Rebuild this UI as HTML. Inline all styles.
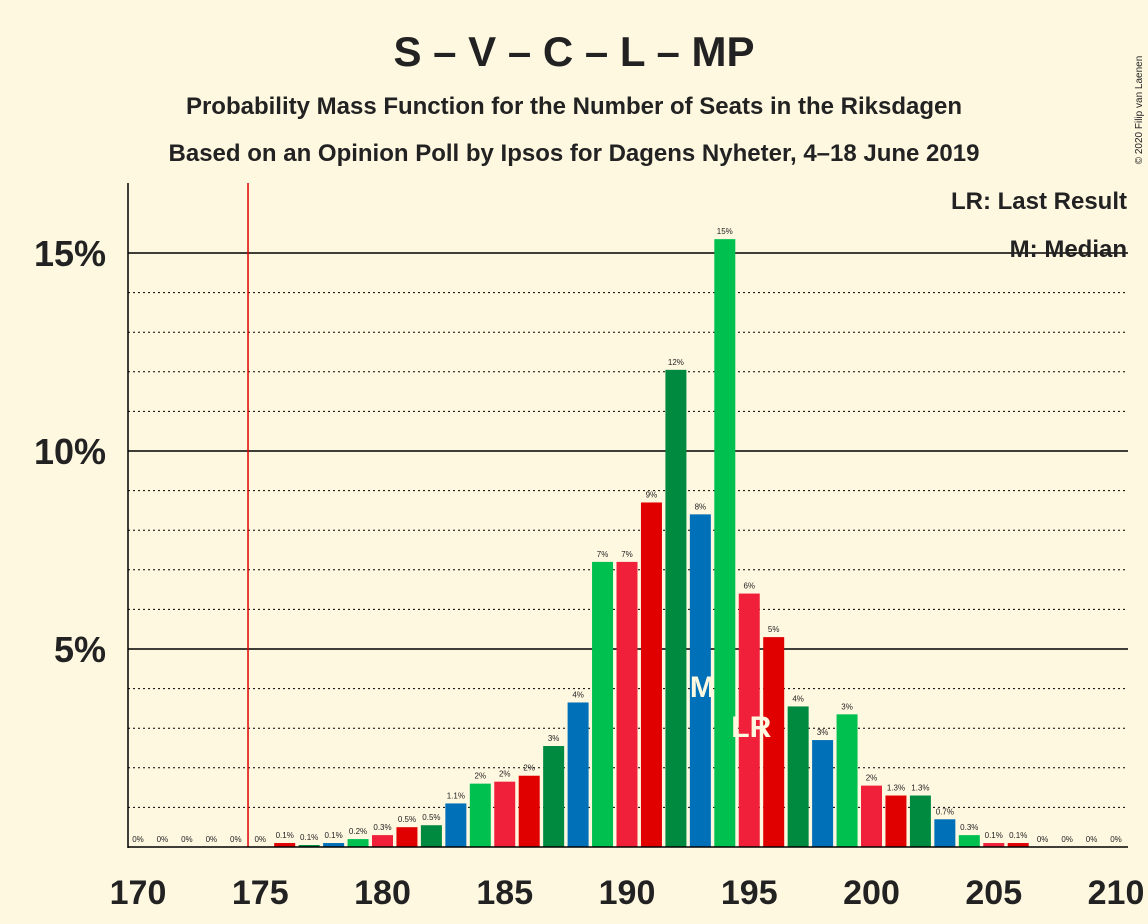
<!DOCTYPE html>
<html><head><meta charset="utf-8"><style>
body{margin:0;background:#fff8e1;font-family:"Liberation Sans",sans-serif}
svg{display:block}
</style></head><body>
<svg width="1148" height="924" viewBox="0 0 1148 924">
<rect width="1148" height="924" fill="#fff8e1"/>
<text x="574" y="66" text-anchor="middle" font-size="42" font-weight="bold" fill="#222">S – V – C – L – MP</text>
<text x="574" y="114" text-anchor="middle" font-size="24" font-weight="bold" fill="#222">Probability Mass Function for the Number of Seats in the Riksdagen</text>
<text x="574" y="161" text-anchor="middle" font-size="24" font-weight="bold" fill="#222">Based on an Opinion Poll by Ipsos for Dagens Nyheter, 4–18 June 2019</text>
<text x="1142" y="110" transform="rotate(-90 1142 110)" text-anchor="middle" font-size="10" fill="#222">© 2020 Filip van Laenen</text>
<g id="grid"></g>
<g id="bars"></g>
<g id="marks"></g>
<g id="axes"></g>
<text x="1127" y="209" text-anchor="end" font-size="24" font-weight="bold" fill="#222">LR: Last Result</text>
<text x="1127" y="257" text-anchor="end" font-size="24" font-weight="bold" fill="#222">M: Median</text>
</svg>
<script>
const seats=[170,171,172,173,174,175,176,177,178,179,180,181,182,183,184,185,186,187,188,189,190,191,192,193,194,195,196,197,198,199,200,201,202,203,204,205,206,207,208,209,210];
const probs=[0,0,0,0,0,0,0.1,0.05,0.1,0.2,0.3,0.5,0.55,1.1,1.6,1.65,1.8,2.55,3.65,7.2,7.2,8.7,12.05,8.4,15.35,6.4,5.3,3.55,2.7,3.35,1.55,1.3,1.3,0.7,0.3,0.1,0.1,0,0,0,0];
const labels=["0%","0%","0%","0%","0%","0%","0.1%","0.1%","0.1%","0.2%","0.3%","0.5%","0.5%","1.1%","2%","2%","2%","3%","4%","7%","7%","9%","12%","8%","15%","6%","5%","4%","3%","3%","2%","1.3%","1.3%","0.7%","0.3%","0.1%","0.1%","0%","0%","0%","0%"];
const yTicks=[5,10,15];
const xTicks=[170,175,180,185,190,195,200,205,210];
const lastResult=195, median=193;
const ns="http://www.w3.org/2000/svg";
const x=s=>138+(s-170)*24.45;
const y=p=>847-p*39.6;
const colors={4:"#00c050",0:"#f0203a",1:"#e00000",2:"#008a40",3:"#0070b8"};
function mk(t,a,parent){const e=document.createElementNS(ns,t);for(const k in a)e.setAttribute(k,a[k]);document.getElementById(parent).appendChild(e);return e;}
for(let p=1;p<=15;p++){
 const major=p%5===0;
 const l=mk("line",{x1:128,x2:1128,y1:y(p),y2:y(p),stroke:"#000","stroke-width":major?1.5:1,"stroke-dasharray":major?"":"2,3"},"grid");
 
 
}
const rl=mk("line",{x1:x(174.5),x2:x(174.5),y1:183,y2:847,stroke:"#e00000","stroke-width":1.5},"grid");


seats.forEach((s,i)=>{
 const p=probs[i];
 if(p>0){
  const r=mk("rect",{x:x(s)-10.5,y:y(p),width:21,height:847-y(p),fill:colors[s%5]},"bars");
  
  
 }
 const t=mk("text",{x:x(s),y:y(p)-5,"text-anchor":"middle","font-size":8,fill:"#222"},"bars");
 t.textContent=labels[i];
 
 
 if(s===median){const m=mk("text",{x:x(s)+2,y:697,"text-anchor":"middle","font-size":30,"font-weight":"bold",fill:"#fff8e1"},"marks");m.textContent="M";}
 if(s===lastResult){const m=mk("text",{x:x(s)+2,y:737,"text-anchor":"middle","font-size":30,"font-weight":"bold",fill:"#fff8e1"},"marks");m.textContent="LR";}
});
const ax=mk("line",{x1:128,x2:128,y1:183,y2:848,stroke:"#000","stroke-width":1.5},"axes");

const bx=mk("line",{x1:128,x2:1128,y1:847,y2:847,stroke:"#000","stroke-width":1.5},"axes");

yTicks.forEach(p=>{const t=mk("text",{x:106,y:y(p)+13,"text-anchor":"end","font-size":36,"font-weight":"bold",fill:"#222"},"axes");t.textContent=p+"%";});
xTicks.forEach(s=>{const t=mk("text",{x:x(s),y:904,"text-anchor":"middle","font-size":34,"font-weight":"bold",fill:"#222"},"axes");t.textContent=s;});
</script>
</body></html>
